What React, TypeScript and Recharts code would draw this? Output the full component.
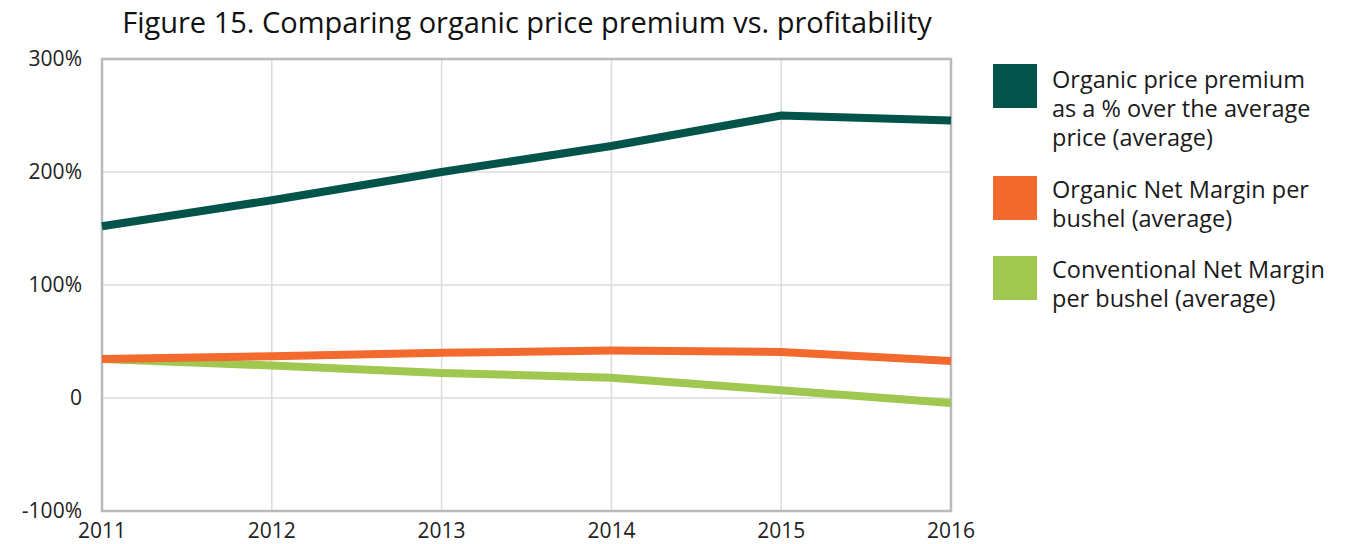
import React from "react";
import {
  LineChart,
  Line,
  XAxis,
  YAxis,
  CartesianGrid,
  ReferenceArea,
} from "recharts";

const years = [2011, 2012, 2013, 2014, 2015, 2016];
const organicPremium = [152, 175, 200, 223, 250, 245.5];
const organicMargin = [34.6, 37, 40, 42, 40.8, 32.8];
const conventionalMargin = [34.6, 28.7, 22.2, 18, 6.8, -4.4];
const yTicks = [-100, 0, 100, 200, 300];
const yTickLabels = ["-100%", "0", "100%", "200%", "300%"];

const title = "Figure 15. Comparing organic price premium vs. profitability";

const seriesInfo = [
  {
    key: "premium",
    color: "#02544A",
    lines: ["Organic price premium", "as a % over the average", "price (average)"],
  },
  {
    key: "organic",
    color: "#F26A2E",
    lines: ["Organic Net Margin per", "bushel (average)"],
  },
  {
    key: "conventional",
    color: "#A0C74F",
    lines: ["Conventional Net Margin", "per bushel (average)"],
  },
];

const data = years.map((y, i) => ({
  year: y,
  premium: organicPremium[i],
  organic: organicMargin[i],
  conventional: conventionalMargin[i],
}));

const FONT = "'Open Sans', sans-serif";

const LegendContent = () => (
  <div style={{ fontFamily: FONT, fontSize: 23.5, color: "#1a1a1a" }}>
    {seriesInfo.map((s, i) => (
      <div
        key={s.key}
        style={{ display: "flex", alignItems: "flex-start", marginBottom: i === 0 ? 22 : 21 }}
      >
        <div
          style={{
            width: 44,
            height: 44,
            background: s.color,
            marginRight: 15,
            marginTop: 2,
            flexShrink: 0,
          }}
        />
        <div style={{ lineHeight: "29px", marginTop: i === 0 ? 3 : 1 }}>
          {s.lines.map((l) => (
            <div key={l} style={{ whiteSpace: "nowrap" }}>
              {l}
            </div>
          ))}
        </div>
      </div>
    ))}
  </div>
);

const yFormatter = (v: number) => yTickLabels[yTicks.indexOf(v)] ?? String(v);

export default function App() {
  return (
    <div style={{ position: "absolute", left: 0, top: 0, width: 1346, height: 544, background: "#fff" }}>
      <div
        style={{
          position: "absolute",
          left: 0,
          width: 1054,
          top: 2,
          textAlign: "center",
          fontFamily: FONT,
          fontSize: 29,
          color: "#111",
        }}
      >
        {title}
      </div>
      <LineChart
        width={1346}
        height={544}
        data={data}
        margin={{ top: 59, right: 395, bottom: 0, left: 0 }}
      >
        <CartesianGrid stroke="#dcdcdc" strokeWidth={1.5} />
        <XAxis
          dataKey="year"
          type="number"
          domain={[2011, 2016]}
          ticks={years}
          height={33}
          axisLine={false}
          tickLine={false}
          tick={{ fill: "#222", fontSize: 21, fontFamily: FONT }}
          tickMargin={6}
          interval={0}
        />
        <YAxis
          type="number"
          domain={[-100, 300]}
          ticks={yTicks}
          width={102}
          axisLine={false}
          tickLine={false}
          tickFormatter={yFormatter}
          tick={{ fill: "#222", fontSize: 21, fontFamily: FONT }}
          tickMargin={14}
          interval={0}
        />
        <ReferenceArea
          x1={2011}
          x2={2016}
          y1={-100}
          y2={300}
          fill="none"
          stroke="#b9b9be"
          strokeWidth={2.5}
        />
        <Line
          dataKey="premium"
          stroke={seriesInfo[0].color}
          strokeWidth={8}
          dot={false}
          isAnimationActive={false}
        />
        <Line
          dataKey="conventional"
          stroke={seriesInfo[2].color}
          strokeWidth={8}
          dot={false}
          isAnimationActive={false}
        />
        <Line
          dataKey="organic"
          stroke={seriesInfo[1].color}
          strokeWidth={8}
          dot={false}
          isAnimationActive={false}
        />
      </LineChart>
      <div style={{ position: "absolute", left: 993, top: 62, width: 353 }}>
        <LegendContent />
      </div>
    </div>
  );
}
